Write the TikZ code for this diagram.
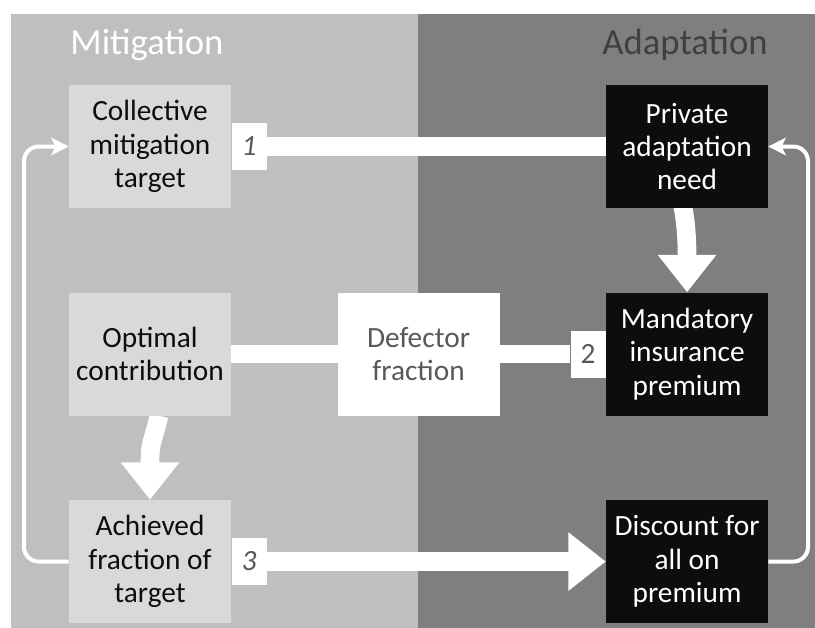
\documentclass[tikz,border=0pt]{standalone}
\usepackage{fontspec}
\setmainfont{Carlito}
\usetikzlibrary{positioning,arrows.meta,calc}
\definecolor{mitGray}{HTML}{BFBFBF}
\definecolor{adaGray}{HTML}{7F7F7F}
\definecolor{boxGray}{HTML}{D9D9D9}
\definecolor{nearBlack}{HTML}{0D0D0D}
\definecolor{txtGray}{HTML}{595959}
\definecolor{ttlGray}{HTML}{404040}
\pgfdeclarelayer{bg}
\pgfsetlayers{bg,main}

\begin{document}
\begin{tikzpicture}[x=0.75pt,y=-0.75pt,
      font=\fontsize{22}{25}\selectfont,
      box/.style={minimum width=121.5pt,minimum height=92.25pt,inner sep=0pt,align=center},
      mitbox/.style={box,fill=boxGray,text=nearBlack},
      adabox/.style={box,fill=nearBlack,text=white},
      numbox/.style={fill=white,text=txtGray,minimum width=26.25pt,minimum height=35.25pt,inner sep=0pt,font=\fontsize{22}{24}\selectfont},
      title/.style={anchor=base,font=\fontsize{27.5}{32}\selectfont},
      band/.style={white,line width=14pt},
      bigtip/.style={-{Triangle[width=42pt,length=28pt]}},
      loopline/.style={white,line width=3pt,rounded corners=11pt,-{Stealth[length=13pt,width=13pt,inset=3pt]}}
    ]
    \useasboundingbox (0,0) rectangle (815,628);
    \begin{pgfonlayer}{bg}
      \fill[mitGray] (11,14) rectangle (418,628);
      \fill[adaGray] (418,14) rectangle (815,628);
    \end{pgfonlayer}

    \node[title,text=white] (mit) at (147,54) {Mitigation};
    \node[title,text=ttlGray] (ada) at (685,54) {Adaptation};

    \node[mitbox] (cmt) at (150,146.5) {Collective \\ mitigation \\ target};
    \node[mitbox,below=63pt of cmt] (opt) {Optimal \\ contribution};
    \node[mitbox,below=63pt of opt] (ach) {Achieved \\ fraction of \\ target};

    \node[box,fill=white,text=txtGray,right=79.5pt of opt] (dfr) {Defector \\ fraction};
    \node[adabox,right=79.5pt of dfr] (mip) {Mandatory \\ insurance \\ premium};
    \node[adabox,above=63pt of mip] (pan) {Private \\ adaptation \\ need};
    \node[adabox,below=63pt of mip] (dsc) {Discount for \\ all on \\ premium};

    \node[numbox,right=0pt of cmt] (n1) {\itshape 1};
    \node[numbox,left=0pt of mip] (n2) {2};
    \node[numbox,right=0pt of ach] (n3) {\itshape 3};

    \coordinate (lft) at (24,0);
    \coordinate (rgt) at (808,0);

    \begin{pgfonlayer}{bg}
      \draw[band,bigtip] (n1.east) -- ($(pan.west)+(-5,0)$)
        .. controls ($(pan.west)+(55,0)$) and ($(mip.north)+(0,-122)$) .. (mip.north);
      \draw[band] (opt.east) -- (n2.west);
      \draw[band,bigtip] ($(opt.south)+(9,0)$)
        .. controls ($(opt.south)+(2,30)$) and ($(ach.north)+(0,-60)$) .. (ach.north);
      \draw[band,bigtip] (n3.east) -- (dsc.west);
      \draw[loopline] (ach.west) -- (ach.west -| lft) |- (cmt.west);
      \draw[loopline] (dsc.east) -- (dsc.east -| rgt) |- (pan.east);
    \end{pgfonlayer}
  \end{tikzpicture}
\end{document}
